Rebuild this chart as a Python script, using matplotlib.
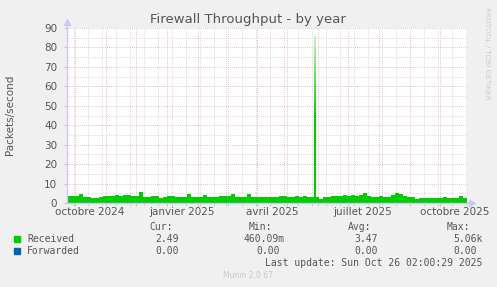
import numpy as np
import pandas as pd
import matplotlib
matplotlib.use("Agg")
from matplotlib import pyplot as plt
import matplotlib.dates as mdates

# data: received packets/s, one value per 4 days from 2024-09-23
start = "2024-09-23"
received = [3.6, 3.5, 3.7, 4.5, 3.3, 3.2, 2.8, 2.7, 3.0, 3.5,
            3.4, 3.6, 3.9, 3.7, 3.9, 4.0, 3.6, 3.7, 5.6, 3.1,
            3.0, 3.6, 3.7, 2.8, 2.9, 3.6, 3.4, 3.1, 3.0, 3.1,
            4.4, 3.1, 3.0, 3.1, 4.1, 2.9, 3.1, 3.2, 3.5, 3.6,
            3.5, 4.4, 3.2, 3.1, 3.2, 4.8, 3.2, 3.3, 3.1, 3.3,
            3.1, 3.0, 3.3, 3.6, 3.5, 3.3, 3.2, 3.4, 3.1, 3.5,
            3.3, 3.2, 3.3, 1.9, 3.2, 3.3, 3.4, 3.6, 3.5, 4.2,
            3.8, 4.0, 3.6, 3.9, 5.2, 3.4, 3.3, 3.1, 3.4, 3.2,
            3.1, 4.3, 5.0, 4.6, 3.6, 3.3, 3.0, 2.3, 2.6, 2.5,
            2.8, 2.7, 2.6, 2.8, 2.9, 2.6, 2.7, 2.8, 3.8, 2.4]
spike_date = "2025-05-29"
spike_value = 86

x_start = "2024-09-23"
x_end = "2025-10-27"
label_dates = ["2024-10-16", "2025-01-16", "2025-04-16", "2025-07-16", "2025-10-16"]
label_texts = ["octobre 2024", "janvier 2025", "avril 2025", "juillet 2025", "octobre 2025"]

series_names = ["Received", "Forwarded"]
series_colors = ["#00cc00", "#0066b3"]
col_heads = ["Cur:", "Min:", "Avg:", "Max:"]
stats = [["2.49", "460.09m", "3.47", "5.06k"],
         ["0.00", "0.00", "0.00", "0.00"]]

W, H = 497, 287
def fx(x): return x / W
def fy(y): return 1 - y / H

fig = plt.figure(figsize=(W / 100, H / 100), dpi=100, facecolor="#f0f0f0")
ax = fig.add_axes([fx(67), fy(203), (466 - 67) / W, (203 - 28) / H])
ax.set_facecolor("white")

dates = pd.date_range(start, periods=len(received) + 1, freq="4D")
vals = np.array(received + [received[-1]])
ax.fill_between(dates, vals, step="post", color="#00cc00", lw=0, zorder=3)

# spike, fading towards the top like rrdtool's antialiasing
sd = mdates.date2num(pd.Timestamp(spike_date))
bar = ax.bar(sd, spike_value, width=1.3, color="none", lw=0, zorder=3)[0]
grad = np.linspace(0, 1, 100).reshape(-1, 1)
cm = matplotlib.colors.LinearSegmentedColormap.from_list("g", ["#00cc00", "#00cc00", "#c8f0c8"])
im = ax.imshow(grad, extent=[sd - 0.65, sd + 0.65, 0, spike_value], origin="lower",
               aspect="auto", cmap=cm, zorder=3)
im.set_clip_path(bar)

ax.set_xlim(pd.Timestamp(x_start), pd.Timestamp(x_end))
ax.set_ylim(0, 90)

# grid
ax.xaxis.set_major_locator(mdates.MonthLocator())
ax.xaxis.set_minor_locator(mdates.WeekdayLocator(byweekday=mdates.MO, interval=2))
ax.set_yticks(np.arange(0, 91, 10))
ax.set_yticks(np.arange(5, 90, 10), minor=True)
ax.grid(which="major", color="#e8a8a8", lw=0.6, ls=(0, (1, 1.5)), zorder=1)
ax.grid(which="minor", color="#cccccc", lw=0.6, ls=(0, (1, 1.5)), zorder=1)
ax.tick_params(axis="x", which="both", labelbottom=False, length=2, width=0.6, colors="#e8a8a8")
ax.tick_params(axis="x", which="minor", colors="#cccccc")
ax.tick_params(axis="y", which="major", length=2, width=0.6, colors="#e8a8a8",
               labelcolor="#555555", labelsize=7.5, pad=5)
ax.tick_params(axis="y", which="minor", length=0)
for s in ax.spines.values():
    s.set_visible(False)

sec = ax.secondary_xaxis("bottom")
sec.set_xticks([mdates.date2num(pd.Timestamp(d)) for d in label_dates], labels=label_texts)
sec.tick_params(length=0, pad=3, labelsize=7.5, labelcolor="#555555")
for s in sec.spines.values():
    s.set_visible(False)

# axis lines with arrows
acol = "#c8c8ff"
ax.plot([0, 1.015], [0, 0], transform=ax.transAxes, color=acol, lw=1, clip_on=False, zorder=4)
ax.plot([0, 0], [0, 1.035], transform=ax.transAxes, color=acol, lw=1, clip_on=False, zorder=4)
ax.plot([1.015], [0], marker=">", ms=4, color=acol, transform=ax.transAxes, clip_on=False, zorder=4)
ax.plot([0], [1.035], marker="^", ms=4, color=acol, transform=ax.transAxes, clip_on=False, zorder=4)

fig.text(fx(248), fy(19), "Firewall Throughput - by year", ha="center", va="center",
         fontsize=9.5, color="#555555")
fig.text(fx(10), fy(115), "Packets/second", rotation=90, ha="center", va="center",
         fontsize=7.5, color="#555555")
fig.text(fx(487), fy(53), "RRDTOOL / TOBI OETIKER", rotation=270, ha="center", va="center",
         fontsize=5.2, color="#cccccc")

mono = dict(family="DejaVu Sans Mono", fontsize=7, color="#555555", va="center")
head_x = [149, 249, 348, 447]
for h, x in zip(col_heads, head_x):
    fig.text(fx(x), fy(227), h, **mono)
val_x = [[155, 244, 354, 453], [155, 256, 354, 453]]
for i, name in enumerate(series_names):
    y = 239 + 12 * i
    fig.patches.append(plt.Rectangle((fx(14), fy(y + 3)), 6 / W, 6 / H, transform=fig.transFigure,
                                     color=series_colors[i], figure=fig))
    fig.text(fx(27), fy(y), name, **mono)
    for v, x in zip(stats[i], val_x[i]):
        fig.text(fx(x), fy(y), v, **mono)
fig.text(fx(482), fy(263), "Last update: Sun Oct 26 02:00:29 2025", ha="right",
         **{k: v for k, v in mono.items()})
fig.text(fx(248), fy(276), "Munin 2.0.67", ha="center", va="center", fontsize=5.5, color="#c8c8c8")

fig.savefig("out.png", dpi=100, facecolor=fig.get_facecolor())
